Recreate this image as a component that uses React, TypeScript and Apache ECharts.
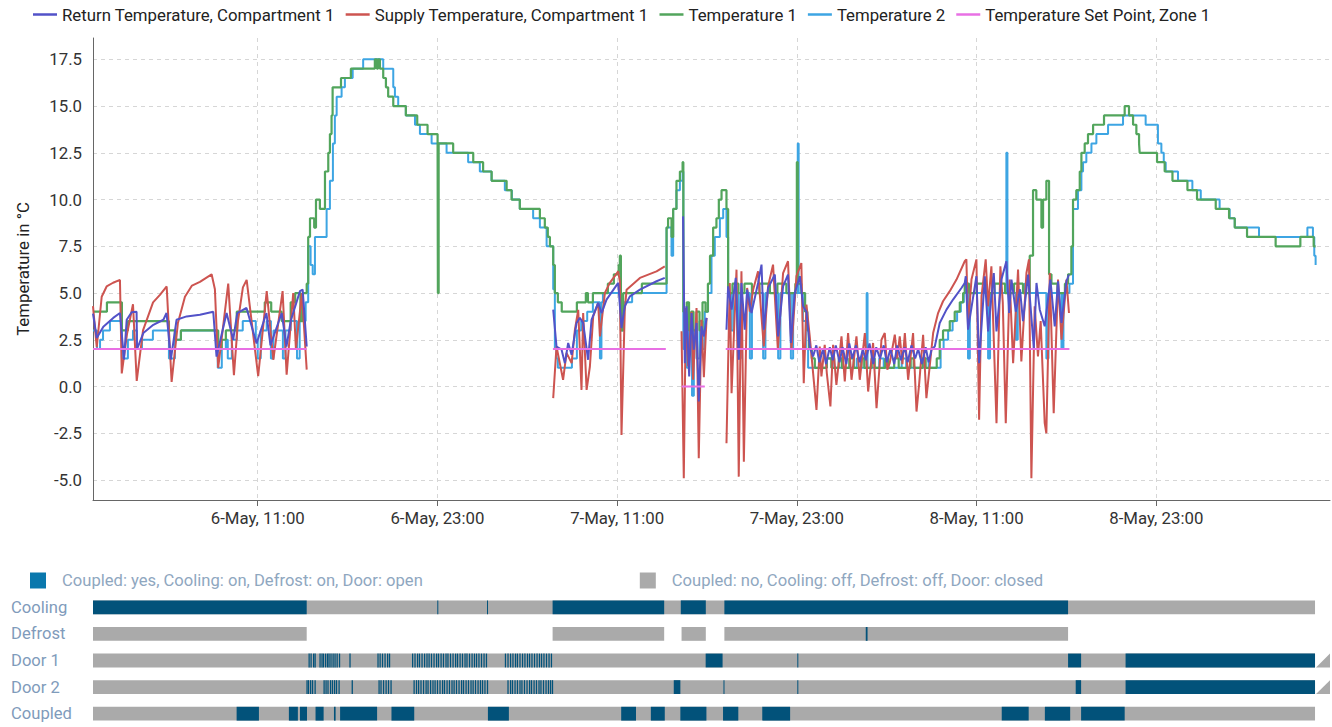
import React, { useEffect, useRef } from 'react';
import * as echarts from 'echarts';

// x values are hours since 6-May 00:00
const TICK_HOURS = [11, 23, 35, 47, 59, 71];
const Y_TICKS = [-5, -2.5, 0, 2.5, 5, 7.5, 10, 12.5, 15, 17.5];

const RETURN_T: [number, number | null][] = [
  [0,3.9],[0.25,2.6],[0.69,3.2],[1.35,3.67],[1.8,3.93],[2.07,1.45],[2.25,3.57],[2.58,3.97],[2.91,4.0],[2.94,2.0],[3.36,2.86],[4.03,3.3],[4.7,3.57],[4.91,3.93],[5.2,1.45],[5.58,3.57],[6.25,3.75],[7.14,3.84],[8.03,4.0],[8.25,1.6],[8.92,3.93],[9.36,2.5],[9.63,3.93],[10.25,4.2],[10.92,2.3],[11.58,3.93],[11.85,2.2],[12.6,3.93],[12.92,2.14],[13.2,3.5],[13.82,5.1],[14.0,5.18],[14.27,2.14],[14.3,null],
  [30.73,4.11],[30.95,2.14],[31.29,1.97],[31.51,1.25],[31.73,2.33],[31.96,1.7],[32.29,3.4],[32.51,3.67],[32.73,3.4],[33.06,1.43],[33.29,3.57],[33.73,4.47],[33.96,3.93],[34.29,4.65],[35.07,5.54],[35.29,3.13],[35.51,4.29],[35.85,4.82],[36.52,5.18],[37.63,5.63],[38.18,5.81],[38.3,null],
  [39.4,9.1],[39.52,1.25],[39.63,4.29],[39.81,0.54],[39.97,3.93],[40.12,1.97],[40.3,3.4],[40.45,-0.8],[40.63,3.22],[40.79,2.68],[40.97,3.67],[41.0,null],
  [42.3,3.04],[42.41,5.36],[42.64,4.11],[42.92,5.81],[43.12,1.43],[43.3,5.54],[43.52,3.04],[43.68,5.18],[43.97,3.93],[44.41,5.54],[44.64,6.52],[44.79,3.04],[45.08,5.27],[45.53,5.99],[45.75,2.68],[46.08,5.36],[46.41,5.99],[46.6,2.33],[46.86,5.0],[47.2,5.9],[47.42,4.29],[47.64,4.0],[47.86,2.14],[48.08,1.61],
  [48.3,2.2],[48.5,1.3],[48.75,2.0],[48.95,1.2],[49.2,2.1],[49.4,1.4],[49.6,2.2],[49.85,1.3],[50.05,2.1],[50.3,1.2],[50.5,2.3],[50.7,1.5],[50.95,2.2],[51.2,1.3],[51.4,2.0],[51.6,1.4],[51.85,2.3],[52.1,1.2],[52.3,2.1],[52.55,1.5],[52.8,2.2],[53.0,1.3],[53.25,2.0],[53.5,1.2],[53.7,2.2],[53.95,1.4],[54.2,2.1],[54.4,1.3],[54.65,2.2],[54.9,1.5],[55.1,2.0],[55.35,1.2],[55.6,2.1],[55.8,1.3],[56.0,2.0],[56.21,2.14],[56.54,3.4],[56.99,4.11],[57.43,4.65],[57.99,5.27],[58.21,5.54],
  [58.28,5.9],[58.43,3.04],[58.99,5.9],[59.17,1.25],[59.55,5.9],[59.77,2.95],[60.15,6.07],[60.33,2.95],[60.66,5.72],[60.99,6.7],[61.17,3.93],[61.33,5.72],[61.62,4.0],[61.9,5.2],[62.1,3.49],[62.44,5.99],[62.82,2.06],[63.0,5.54],[63.22,4.11],[63.55,3.22],[63.93,5.72],[64.22,3.22],[64.44,5.63],[64.67,3.4],[65.0,5.63],[65.17,5.99]
];

const SUPPLY_T: [number, number | null][] = [
  [0,4.3],[0.25,2.1],[0.58,4.8],[0.91,5.35],[1.34,5.55],[1.8,5.7],[1.92,0.7],[2.27,2.8],[2.67,4.4],[2.92,0.3],[3.34,3.0],[4.01,4.5],[4.47,4.9],[4.92,5.35],[5.25,0.25],[5.67,3.4],[6.14,4.8],[6.61,5.4],[7.14,5.6],[7.92,6.0],[8.14,5.2],[8.36,1.0],[9.03,5.5],[9.41,0.6],[9.68,3.5],[10.01,5.3],[10.26,5.7],[11.03,0.55],[11.6,5.1],[12.04,1.43],[12.66,5.1],[12.93,0.63],[13.37,5.0],[13.55,2.0],[13.95,5.0],[14.27,0.9],[14.3,null],
  [30.73,-0.62],[30.95,2.14],[31.39,0.36],[31.62,1.8],[31.96,1.25],[32.18,3.04],[32.4,4.1],[32.62,-0.18],[32.73,3.93],[32.96,-0.18],[33.18,1.07],[33.4,3.75],[33.73,4.47],[33.85,2.68],[34.18,5.0],[34.51,5.54],[35.07,6.16],[35.18,5.63],[35.29,-2.59],[35.51,4.11],[35.63,5.18],[36.52,5.81],[37.63,6.16],[38.18,6.43],[38.3,null],
  [39.3,2.95],[39.45,-4.9],[39.59,4.2],[39.74,1.07],[39.97,4.0],[40.07,0.36],[40.3,4.2],[40.45,-3.84],[40.63,3.57],[40.79,0.5],[40.97,3.67],[41.0,null],
  [42.3,-3.04],[42.52,5.54],[42.64,-0.36],[42.97,6.25],[43.12,-4.82],[43.3,6.16],[43.46,-4.02],[43.68,5.27],[43.86,4.0],[44.08,5.18],[44.41,6.16],[44.79,2.14],[45.08,5.36],[45.41,6.52],[45.73,2.0],[46.08,6.07],[46.41,6.7],[46.64,1.97],[46.97,5.9],[47.3,6.6],[47.46,0.18],[47.64,4.38],[47.86,2.68],[48.31,-1.25],
  [48.53,2.14],[48.64,0.54],[48.86,2.23],[49.0,0.72],[49.24,-1.07],[49.42,2.23],[49.64,0.09],[49.98,2.68],[50.2,0.27],[50.42,2.86],[50.65,0.36],[50.98,2.68],[51.2,0.36],[51.54,2.86],[51.76,-0.27],[52.09,2.33],[52.32,-1.16],[52.65,2.5],[52.87,2.86],[53.04,0.9],[53.2,1.25],[53.54,2.77],[53.7,1.5],[53.87,2.68],[54.05,1.2],[54.21,2.86],[54.43,0.36],[54.76,2.86],[54.99,-1.34],[55.17,0.18],[55.43,2.77],[55.65,-0.62],[56.1,2.86],[56.43,3.93],[56.76,4.56],[57.21,5.1],[57.66,5.72],[58.21,6.7],[58.32,6.8],
  [58.43,3.22],[58.66,5.72],[58.99,6.8],[59.17,-1.78],[59.33,4.82],[59.61,6.8],[59.77,4.29],[59.99,6.43],[60.33,-1.96],[60.59,6.43],[60.75,4.5],[60.95,-1.96],[61.21,5.72],[61.44,1.25],[61.77,6.25],[61.99,1.34],[62.33,6.07],[62.5,6.8],[62.66,-4.91],[62.88,4.29],[63.1,1.61],[63.28,3.5],[63.55,-1.96],[63.66,-2.5],[63.89,6.07],[64.15,-1.43],[64.44,5.72],[64.67,2.5],[65.0,5.72],[65.17,3.93]
];

const TEMP_1: [number, number][] = [
  [0,4.0],[0.93,4.5],[1.93,3.0],[2.33,3.5],[5.07,3.0],[5.47,2.5],[5.87,3.0],[8.36,2.0],[8.6,2.5],[8.87,3.0],[9.6,4.0],[11.47,4.5],[11.9,4.0],[12.6,3.5],[13.2,4.5],[13.5,5.0],[13.85,3.5],[14.0,5.0],[14.27,5.5],[14.37,8.0],[14.49,9.0],[14.77,8.5],[14.89,10.0],[15.15,9.5],[15.49,11.5],[15.71,12.5],[15.82,13.5],[15.93,14.5],[16.0,16.0],[16.56,16.5],[17.22,17.0],[18.82,17.5],[18.96,17.0],[19.03,17.5],[19.16,17.0],[19.38,16.5],[19.56,16.0],[19.71,15.5],[20.05,15.0],[20.89,14.5],[21.65,14.0],[22.34,13.5],[23.01,13.0],[23.03,5.0],[23.08,13.0],[24.05,12.5],[25.39,12.0],[26.05,11.5],[26.62,11.0],[27.62,10.5],[27.95,10.0],[28.5,9.5],[29.84,9.0],[30.17,8.5],[30.37,8.0],[30.51,7.5],[30.73,6.5],
  [30.84,5.0],[31.04,4.5],[31.3,4.0],[32.31,4.5],[32.91,5.0],[33.05,4.5],[33.38,5.0],[34.38,5.5],[34.78,6.0],[35.1,6.5],[35.18,7.0],[35.25,3.0],[35.4,5.0],[36.65,5.5],[38.18,5.5],[38.3,8.5],[38.4,9.0],[38.63,8.0],[38.74,9.5],[38.96,11.0],[39.19,11.5],[39.37,12.0],[39.42,4.0],[39.52,3.0],[39.65,4.5],[39.8,3.0],[39.95,4.0],[40.1,3.0],[40.3,4.0],[40.5,3.0],[40.7,4.5],[40.9,4.0],[41.06,5.5],[41.2,7.0],[41.41,8.5],[41.63,9.0],[41.79,10.0],[41.97,10.5],[42.3,9.5],[42.41,5.0],[42.7,5.5],[43.1,5.0],[43.5,5.5],[44.0,5.0],[44.5,5.5],[45.2,5.0],[45.7,5.5],[46.3,5.0],[46.9,5.5],[47.0,12.0],[47.06,5.5],[47.3,5.0],[47.55,4.0],[47.7,3.0],[47.8,2.0],[48.0,1.5],[48.2,1.0],[49.0,1.5],[49.3,1.0],[49.8,1.5],[50.0,1.0],[50.5,1.5],[50.8,1.0],[51.3,1.5],[51.5,1.0],[52.0,1.5],[52.2,1.0],[52.9,1.5],[53.1,1.0],[53.5,1.5],[53.8,1.0],[54.6,1.5],[54.8,1.0],[55.4,1.5],[55.6,1.0],[56.34,1.5],[56.54,2.5],[56.76,3.0],[57.21,3.5],[57.54,4.0],[57.88,4.5],[58.1,5.0],[58.21,5.5],[58.5,5.0],[59.0,5.5],[59.6,5.0],[60.2,5.5],[60.9,5.0],[61.5,5.5],[62.1,5.0],[62.55,7.0],[62.77,10.5],[62.99,10.0],[63.33,8.5],[63.44,10.0],[63.66,11.0],[63.84,6.0],[64.0,5.5],[64.4,5.0],[64.9,5.5],[65.11,6.0],[65.33,7.5],[65.44,10.0],[65.66,10.5],[65.89,11.5],[66.0,12.5],[66.22,13.0],[66.44,13.5],[66.78,14.0],[67.51,14.5],[68.89,15.0],[69.18,14.5],[69.45,14.0],[69.67,13.5],[69.85,13.0],[69.89,12.5],[71.05,12.0],[71.56,11.5],[72.08,11.0],[73.08,10.5],[73.72,10.0],[74.97,9.5],[75.86,9.0],[76.24,8.5],[77.06,8.0],[78.97,7.5],[80.62,8.0],[81.51,7.5],[81.64,7.5]
];

const TEMP_2: [number, number][] = [
  [0,3.0],[0.27,2.0],[0.47,2.5],[0.67,3.0],[1.13,3.5],[1.93,1.5],[2.33,2.5],[2.67,3.0],[2.93,2.0],[3.27,2.5],[4.0,3.0],[5.07,1.5],[5.47,2.5],[5.87,3.0],[8.33,1.0],[8.6,2.0],[8.87,2.5],[9.0,1.5],[9.27,2.5],[9.6,3.0],[10.0,3.5],[10.87,2.5],[11.0,1.5],[11.2,3.0],[11.6,3.5],[11.88,1.5],[12.05,3.0],[12.68,1.5],[12.85,3.0],[13.2,3.5],[13.62,1.5],[13.8,3.5],[14.2,4.5],[14.37,7.5],[14.53,6.5],[14.67,6.0],[14.82,8.0],[15.6,9.5],[15.82,11.0],[16.02,13.0],[16.15,14.5],[16.27,15.5],[16.6,16.0],[16.82,16.5],[17.34,17.0],[18.04,17.5],[19.38,17.0],[20.05,16.0],[20.16,15.5],[20.38,15.0],[20.89,14.5],[21.5,14.0],[21.83,13.5],[22.61,13.0],[23.61,12.5],[25.05,12.0],[25.83,11.5],[26.61,11.0],[27.5,10.5],[27.97,10.0],[28.5,9.5],[29.39,9.0],[29.84,8.5],[30.29,7.5],[30.73,5.2],[30.84,2.0],[30.95,1.5],[31.04,1.0],[31.98,1.5],[32.31,3.0],[32.6,3.5],[33.0,4.0],[33.38,4.5],[33.85,1.5],[33.95,4.5],[34.05,5.0],[35.25,5.0],[35.29,3.0],[35.45,4.5],[36.0,5.0],[38.3,8.5],[38.63,7.0],[38.74,9.5],[38.96,10.5],[39.19,11.0],[39.37,11.5],[39.42,2.0],[39.5,3.5],[39.65,1.0],[39.8,3.5],[40.0,-0.5],[40.12,3.0],[40.3,1.5],[40.5,3.5],[40.7,2.0],[40.85,4.0],[41.07,5.0],[41.3,7.0],[41.52,8.0],[41.86,9.0],[42.08,9.5],[42.3,8.0],[42.41,5.0],[42.6,3.0],[42.75,5.0],[43.1,1.5],[43.25,5.0],[43.86,1.5],[44.0,5.0],[44.75,1.5],[44.9,5.0],[45.75,1.5],[45.9,5.0],[46.6,1.5],[46.75,5.0],[47.06,13.0],[47.12,5.0],[47.4,3.5],[47.6,2.0],[47.75,1.0],[49.0,1.5],[49.5,1.0],[51.0,1.5],[51.3,1.0],[51.66,5.0],[51.72,1.0],[52.5,1.5],[52.8,1.0],[54.0,1.5],[54.3,1.0],[55.5,1.5],[55.8,1.0],[56.6,2.0],[56.8,2.5],[57.1,3.0],[57.4,3.5],[57.7,4.0],[57.95,4.5],[58.15,5.0],[58.43,1.5],[58.55,5.0],[59.77,1.5],[59.9,5.0],[60.99,12.5],[61.06,5.0],[61.62,2.5],[61.75,5.0],[62.2,5.5],[62.5,5.0],[63.66,1.5],[63.8,5.0],[64.67,2.0],[64.8,5.0],[65.2,5.5],[65.44,9.5],[65.77,10.5],[66.0,11.5],[66.11,12.0],[66.33,12.5],[66.67,13.0],[67.0,13.5],[67.78,14.0],[68.78,14.5],[70.29,14.0],[71.11,13.0],[71.34,12.5],[71.5,12.0],[71.63,11.5],[72.45,11.0],[73.41,10.5],[73.97,10.0],[75.23,9.5],[75.9,9.0],[76.24,8.5],[77.86,8.0],[81.09,8.5],[81.46,8.0],[81.55,7.0],[81.64,6.5]
];

const SET_POINT: [number, number | null][] = [
  [0,2],[14.27,2],[14.3,null],[30.71,2],[38.25,2],[38.3,null],[39.32,0],[40.85,0],[40.9,null],[42.25,2],[65.2,2]
];

const STATUS_ROWS = ['Cooling', 'Defrost', 'Door 1', 'Door 2', 'Coupled'];
const ON_NAME = 'Coupled: yes, Cooling: on, Defrost: on, Door: open';
const OFF_NAME = 'Coupled: no, Cooling: off, Defrost: off, Door: closed';

// [rowIndex, startHour, endHour]
const OFF_SEGMENTS: [number, number, number][] = [
  [0,0,81.6],
  [1,0,14.27],[1,30.69,38.14],[1,39.3,40.92],[1,42.16,65.11],
  [2,0,81.6],[3,0,81.6],[4,0,81.6]
];
const ON_SEGMENTS: [number, number, number][] = [
  [0,0,14.27],[0,22.99,23.05],[0,26.31,26.37],[0,30.69,38.14],[0,39.25,40.92],[0,42.16,65.11],
  [1,51.6,51.72],
  [2,40.91,42.04],[2,47.03,47.08],[2,65.11,65.98],[2,68.95,81.6],
  [3,38.78,39.22],[3,42.1,42.14],[3,47.03,47.08],[3,65.62,65.98],[3,68.95,81.6],
  [4,9.59,11.08],[4,13.08,13.68],[4,13.82,14.29],[4,14.86,15.4],[4,16.09,16.2],[4,16.5,18.97],[4,19.93,21.45],[4,26.37,27.77],[4,35.27,36.26],[4,37.25,38.18],[4,39.22,40.96],[4,42.07,43.09],[4,44.69,46.55],[4,60.68,62.48],[4,63.56,65.25],[4,65.98,68.89]
];
// short door openings (start hours)
const DOOR1_OPENINGS = [14.39,14.52,14.69,14.79,15.12,15.25,15.35,15.49,15.62,15.72,15.85,15.99,16.12,16.26,16.42,17.12,18.99,19.13,19.29,19.46,19.63,19.76,21.3,21.46,21.63,21.76,21.93,22.1,22.26,22.4,22.56,22.73,22.9,23.03,23.2,23.36,23.53,23.66,23.83,24.0,24.17,24.3,24.47,24.63,24.8,24.93,25.1,25.27,25.43,25.57,25.73,25.9,26.07,26.23,27.5,27.67,27.84,28.0,28.17,28.3,28.47,28.64,28.8,28.97,29.11,29.27,29.44,29.61,29.77,29.91,30.07,30.24,30.41,30.57];
const DOOR2_OPENINGS = [14.25,14.35,14.49,14.62,14.79,15.39,15.52,15.65,15.82,15.95,16.09,16.22,16.39,17.27,19.06,19.19,19.36,19.53,19.69,19.86,21.4,21.56,21.7,21.86,22.03,22.2,22.33,22.5,22.66,22.8,22.96,23.13,23.3,23.43,23.6,23.76,23.93,24.07,24.23,24.4,24.57,24.7,24.87,25.03,25.2,25.34,25.5,25.67,25.83,25.97,26.13,26.3,27.67,27.84,27.97,28.14,28.3,28.47,28.6,28.77,28.94,29.11,29.24,29.41,29.57,29.74,29.87,30.04,30.21,30.37,30.51,30.64];
const OPENING_LENGTH = 0.085;
const OPEN_ENDED: [number, number][] = [[2,81.6],[3,81.6]];

const FONT = 'Roboto, "Noto Sans", sans-serif';
const FS = 16.8;
const ON_COLOR = '#02527a';
const ON_LEGEND = '#0a78ad';
const OFF_COLOR = '#aaaaaa';

function hourLabel(v: number) {
  const day = 6 + Math.floor(v / 24);
  const hh = Math.round(v % 24);
  return `${day}-May, ${hh < 10 ? '0' + hh : hh}:00`;
}

function segRenderer(fill: string) {
  return (params: any, api: any) => {
    const row = api.value(0);
    const p0 = api.coord([api.value(1), row]);
    const p1 = api.coord([api.value(2), row]);
    const h = api.size([0, 1])[1] * 0.52;
    const cs = params.coordSys;
    const shape = echarts.graphic.clipRectByRect(
      { x: p0[0], y: p0[1] - h / 2, width: Math.max(p1[0] - p0[0], 1), height: h },
      { x: cs.x, y: cs.y, width: cs.width, height: cs.height }
    );
    return shape ? { type: 'rect', shape, style: { fill } } : null;
  };
}

function lineSeries(name: string, data: any[], color: string, width: number, step?: string) {
  return {
    type: 'line', name, data, xAxisIndex: 0, yAxisIndex: 0, symbol: 'none', showSymbol: false,
    step: step || false, connectNulls: false,
    lineStyle: { color, width }, itemStyle: { color }, emphasis: { disabled: true }
  };
}

export default function App() {
  const ref = useRef<HTMLDivElement>(null);
  useEffect(() => {
    document.body.style.margin = '0';
    const chart = echarts.init(ref.current!, null, { renderer: 'svg' });
    const onData = [
      ...ON_SEGMENTS,
      ...DOOR1_OPENINGS.map((s) => [2, s, s + OPENING_LENGTH]),
      ...DOOR2_OPENINGS.map((s) => [3, s, s + OPENING_LENGTH]),
    ];
    const option: any = {
      animation: false,
      textStyle: { fontFamily: FONT },
      legend: [
        {
          data: ['Return Temperature, Compartment 1', 'Supply Temperature, Compartment 1', 'Temperature 1', 'Temperature 2', 'Temperature Set Point, Zone 1'],
          left: 28, top: 1, icon: 'rect', itemWidth: 24, itemHeight: 2.5, itemGap: 11,
          textStyle: { fontSize: FS, color: '#222', fontFamily: FONT },
        },
        {
          data: [ON_NAME, OFF_NAME], left: 25, top: 567, icon: 'rect', itemWidth: 16, itemHeight: 16, itemGap: 217,
          textStyle: { fontSize: 16.6, color: '#8fa7bf', fontFamily: FONT, padding: [0, 0, 0, 11] },
        },
      ],
      grid: [
        { left: 93, right: 2, top: 38, bottom: 227 },
        { left: 93, right: 2, top: 594, height: 134 },
      ],
      xAxis: [
        {
          type: 'value', gridIndex: 0, min: 0, max: 82.6,
          axisLine: { show: true, onZero: false, lineStyle: { color: '#666' } },
          axisTick: { show: true, customValues: TICK_HOURS, length: 6, lineStyle: { color: '#666' } },
          axisLabel: { customValues: TICK_HOURS, formatter: hourLabel, fontSize: FS, color: '#333', margin: 9, fontFamily: FONT },
          splitLine: { show: true, lineStyle: { type: [4, 4], color: '#d6d6d6' } },
        },
        { type: 'value', gridIndex: 1, min: 0, max: 82.6, show: false },
      ],
      yAxis: [
        {
          type: 'value', gridIndex: 0, min: -6.07, max: 18.64,
          name: 'Temperature in °C', nameLocation: 'middle', nameGap: 62,
          nameTextStyle: { fontSize: FS, color: '#222', fontFamily: FONT },
          axisLine: { show: true, onZero: false, lineStyle: { color: '#666' } },
          axisTick: { show: false, customValues: Y_TICKS },
          axisLabel: { customValues: Y_TICKS, formatter: (v: number) => v.toFixed(1), fontSize: FS, color: '#333', margin: 11, fontFamily: FONT },
          splitLine: { show: true, lineStyle: { type: [4, 4], color: '#d6d6d6' } },
        },
        {
          type: 'category', gridIndex: 1, data: STATUS_ROWS, inverse: true,
          axisLine: { show: false }, axisTick: { show: false }, splitLine: { show: false },
          axisLabel: { align: 'left', margin: 82, fontSize: 16.6, color: '#7f9bbb', fontFamily: FONT },
        },
      ],
      series: [
        lineSeries('Temperature 2', TEMP_2, '#3da5e3', 2, 'end'),
        lineSeries('Temperature 1', TEMP_1, '#52a55c', 2.2, 'end'),
        lineSeries('Supply Temperature, Compartment 1', SUPPLY_T, '#cd5450', 2),
        lineSeries('Return Temperature, Compartment 1', RETURN_T, '#5252c8', 2),
        lineSeries('Temperature Set Point, Zone 1', SET_POINT, '#e870e4', 2),
        {
          type: 'custom', name: OFF_NAME, xAxisIndex: 1, yAxisIndex: 1, data: OFF_SEGMENTS,
          encode: { x: [1, 2], y: 0 }, renderItem: segRenderer(OFF_COLOR), itemStyle: { color: OFF_COLOR }, silent: true,
        },
        {
          type: 'custom', name: ON_NAME, xAxisIndex: 1, yAxisIndex: 1, data: onData,
          encode: { x: [1, 2], y: 0 }, renderItem: segRenderer(ON_COLOR), itemStyle: { color: ON_LEGEND }, silent: true,
        },
        {
          type: 'custom', xAxisIndex: 1, yAxisIndex: 1, data: OPEN_ENDED, encode: { x: 1, y: 0 }, silent: true, clip: false,
          renderItem: (params: any, api: any) => {
            const p = api.coord([api.value(1), api.value(0)]);
            const h = api.size([0, 1])[1] * 0.52;
            return {
              type: 'polygon',
              shape: { points: [[p[0] + 1, p[1] + h / 2], [p[0] + 15, p[1] + h / 2], [p[0] + 15, p[1] - h / 2]] },
              style: { fill: OFF_COLOR },
            };
          },
        },
      ],
    };
    chart.setOption(option);
    return () => chart.dispose();
  }, []);
  return <div ref={ref} style={{ width: 1332, height: 727 }} />;
}
